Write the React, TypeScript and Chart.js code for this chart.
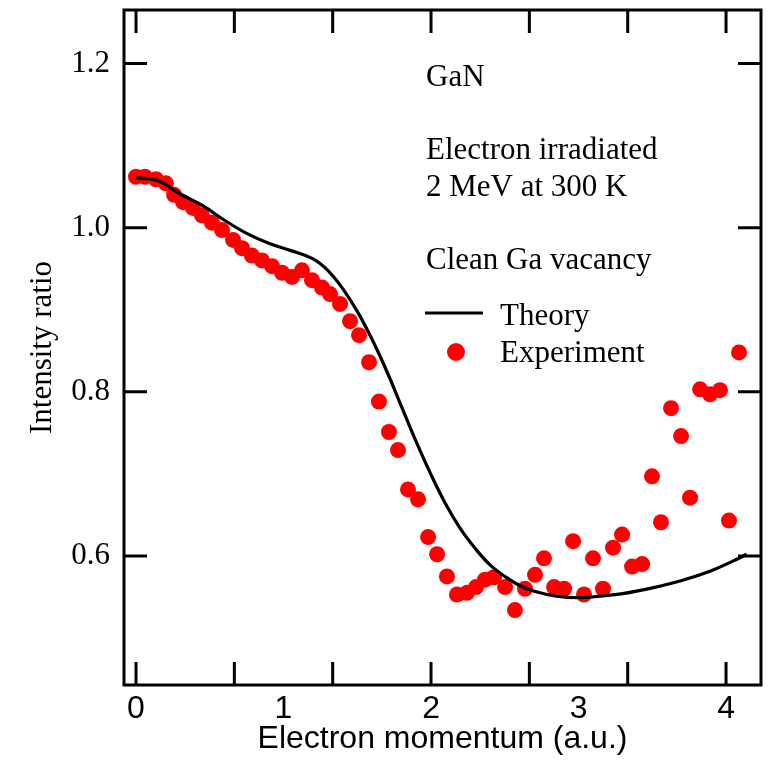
import React, { useEffect, useRef } from "react";
import { Chart, registerables } from "chart.js";

Chart.register(...registerables);

// Experiment (red dots)
const expX = [0.000, 0.061, 0.136, 0.203, 0.258, 0.319, 0.386, 0.447, 0.515, 0.583, 0.658, 0.719, 0.786, 0.854, 0.922, 0.990, 1.058, 1.125, 1.193, 1.261, 1.315, 1.383, 1.451, 1.512, 1.580, 1.647, 1.715, 1.776, 1.844, 1.912, 1.980, 2.041, 2.108, 2.176, 2.244, 2.305, 2.366, 2.427, 2.502, 2.569, 2.637, 2.705, 2.766, 2.834, 2.902, 2.963, 3.037, 3.098, 3.166, 3.234, 3.295, 3.363, 3.431, 3.498, 3.559, 3.627, 3.695, 3.756, 3.824, 3.892, 3.959, 4.020, 4.088];
const expY = [1.062, 1.062, 1.059, 1.054, 1.040, 1.031, 1.024, 1.015, 1.006, 0.997, 0.985, 0.975, 0.966, 0.960, 0.953, 0.945, 0.940, 0.948, 0.936, 0.927, 0.919, 0.907, 0.886, 0.869, 0.836, 0.788, 0.751, 0.729, 0.681, 0.669, 0.623, 0.602, 0.575, 0.553, 0.555, 0.562, 0.571, 0.574, 0.562, 0.534, 0.560, 0.577, 0.597, 0.562, 0.560, 0.618, 0.553, 0.597, 0.560, 0.610, 0.626, 0.587, 0.590, 0.697, 0.641, 0.780, 0.746, 0.671, 0.803, 0.797, 0.802, 0.643, 0.848];

// Theory (black line)
const theoryX = [0, 0.15, 0.3, 0.45, 0.6, 0.75, 0.9, 1.05, 1.2, 1.3, 1.4, 1.5, 1.6, 1.7, 1.8, 1.9, 2.0, 2.1, 2.2, 2.3, 2.4, 2.5, 2.6, 2.7, 2.85, 3.0, 3.15, 3.3, 3.5, 3.7, 3.9, 4.05, 4.14];
const theoryY = [1.061, 1.057, 1.041, 1.027, 1.009, 0.993, 0.981, 0.972, 0.962, 0.948, 0.926, 0.898, 0.864, 0.825, 0.782, 0.739, 0.699, 0.663, 0.633, 0.609, 0.589, 0.575, 0.564, 0.557, 0.551, 0.549, 0.551, 0.554, 0.561, 0.570, 0.582, 0.594, 0.602];

const xTickLabels = [0, 1, 2, 3, 4];
const xTickMarks = [0, 2 / 3, 4 / 3, 2, 8 / 3, 10 / 3, 4];
const yTickLabels = [0.6, 0.8, 1.0, 1.2];

const annotationLines = ["GaN", "Electron irradiated", "2 MeV at 300 K", "Clean Ga vacancy"];
const legendLabels = ["Theory", "Experiment"];

const SERIF = '"Liberation Serif", "Times New Roman", serif';
const SANS = '"Liberation Sans", Arial, sans-serif';

const framePlugin = {
  id: "frameAndNotes",
  afterDatasetsDraw(chart: any) {
    const { ctx, chartArea: a, scales } = chart;
    const x = scales.x;
    const y = scales.y;
    ctx.save();
    ctx.strokeStyle = "#000";
    ctx.lineWidth = 3;
    ctx.strokeRect(a.left, a.top, a.right - a.left, a.bottom - a.top);
    ctx.beginPath();
    for (const v of xTickMarks) {
      const px = x.getPixelForValue(v);
      ctx.moveTo(px, a.top);
      ctx.lineTo(px, a.top + 23);
      ctx.moveTo(px, a.bottom);
      ctx.lineTo(px, a.bottom - 23);
    }
    for (const v of yTickLabels) {
      const py = y.getPixelForValue(v);
      ctx.moveTo(a.left, py);
      ctx.lineTo(a.left + 23, py);
      ctx.moveTo(a.right, py);
      ctx.lineTo(a.right - 23, py);
    }
    ctx.stroke();

    // annotation text
    ctx.fillStyle = "#000";
    ctx.font = `31px ${SERIF}`;
    ctx.textBaseline = "alphabetic";
    ctx.textAlign = "left";
    const tx = a.left + 302;
    const baselines = [76, 149, 186, 259];
    annotationLines.forEach((t, i) => ctx.fillText(t, tx, a.top + baselines[i]));

    // legend
    ctx.beginPath();
    ctx.lineWidth = 3;
    ctx.moveTo(a.left + 301, a.top + 303);
    ctx.lineTo(a.left + 359, a.top + 303);
    ctx.stroke();
    ctx.fillText(legendLabels[0], a.left + 376, a.top + 315);
    ctx.fillStyle = "#ff0000";
    ctx.beginPath();
    ctx.arc(a.left + 332, a.top + 342, 9, 0, Math.PI * 2);
    ctx.fill();
    ctx.fillStyle = "#000";
    ctx.fillText(legendLabels[1], a.left + 376, a.top + 352);
    ctx.restore();
  },
};

export default function App() {
  const ref = useRef<HTMLCanvasElement | null>(null);

  useEffect(() => {
    if (!ref.current) return;
    const chart = new Chart(ref.current, {
      type: "scatter",
      data: {
        datasets: [
          {
            label: legendLabels[0],
            data: theoryX.map((v, i) => ({ x: v, y: theoryY[i] })),
            showLine: true,
            borderColor: "#000",
            borderWidth: 3.2,
            pointRadius: 0,
            tension: 0.4,
            fill: false,
          },
          {
            label: legendLabels[1],
            data: expX.map((v, i) => ({ x: v, y: expY[i] })),
            showLine: false,
            pointRadius: 8,
            pointBackgroundColor: "#ff0000",
            pointBorderWidth: 0,
            backgroundColor: "#ff0000",
            borderColor: "#ff0000",
          },
        ],
      },
      options: {
        responsive: false,
        animation: false,
        events: [],
        layout: { padding: { left: 0, top: 10, right: 15, bottom: 0 } },
        plugins: {
          legend: { display: false },
          tooltip: { enabled: false },
        },
        scales: {
          x: {
            type: "linear",
            min: -0.0814,
            max: 4.237,
            afterBuildTicks: (s: any) => {
              s.ticks = xTickLabels.map((v) => ({ value: v }));
            },
            afterFit: (s: any) => {
              s.height = 85;
              s.paddingLeft = 0;
              s.paddingRight = 0;
              s.paddingTop = 0;
              s.paddingBottom = 0;
            },
            grid: { display: false, drawTicks: false },
            border: { display: false },
            ticks: {
              color: "#000",
              font: { family: SANS, size: 32 },
              padding: 5,
              maxRotation: 0,
              autoSkip: false,
              callback: (v: any) => String(v),
            },
            title: {
              display: true,
              text: "Electron momentum (a.u.)",
              color: "#000",
              font: { family: SANS, size: 32 },
              padding: { top: 0, bottom: 12 },
            },
          },
          y: {
            type: "linear",
            min: 0.4427,
            max: 1.2652,
            afterBuildTicks: (s: any) => {
              s.ticks = yTickLabels.map((v) => ({ value: v }));
            },
            afterFit: (s: any) => {
              s.width = 124;
              s.paddingLeft = 0;
              s.paddingRight = 0;
              s.paddingTop = 0;
              s.paddingBottom = 0;
            },
            grid: { display: false, drawTicks: false },
            border: { display: false },
            ticks: {
              color: "#000",
              font: { family: SERIF, size: 31 },
              padding: 14,
              autoSkip: false,
              callback: (v: any) => Number(v).toFixed(1),
            },
            title: {
              display: true,
              text: "Intensity ratio",
              color: "#000",
              font: { family: SERIF, size: 31 },
              padding: { top: 24, bottom: 0 },
            },
          },
        },
      },
      plugins: [framePlugin],
    } as any);
    return () => chart.destroy();
  }, []);

  return (
    <div style={{ position: "fixed", left: 0, top: 0, width: 776, height: 770, background: "#fff" }}>
      <canvas ref={ref} width={776} height={770} style={{ display: "block" }} />
    </div>
  );
}
